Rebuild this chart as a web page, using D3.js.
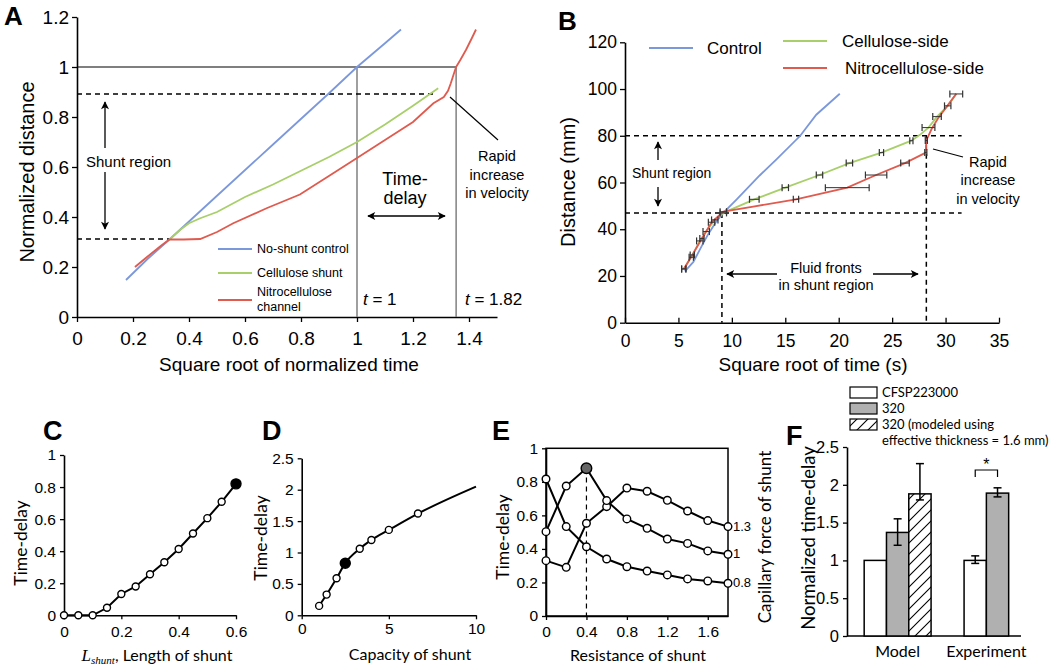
<!DOCTYPE html>
<html><head><meta charset="utf-8">
<script src="https://cdn.jsdelivr.net/npm/d3@7"></script>
<style>body{margin:0;background:#fff} svg{display:block}</style>
</head><body><svg id="c" width="1050" height="672"></svg>
<script>
// ---------------- DATA ----------------
// Panel A
const aTicksX = [0, 0.2, 0.4, 0.6, 0.8, 1, 1.2, 1.4];
const aTicksY = [0, 0.2, 0.4, 0.6, 0.8, 1, 1.2];
const aBlueX = [0.175, 0.25, 0.33, 0.5, 0.7, 0.9, 1.0, 1.1, 1.157];
const aBlueY = [0.148, 0.23, 0.31, 0.485, 0.69, 0.895, 1.0, 1.095, 1.15];
const aGreenX = [0.33, 0.37, 0.4, 0.44, 0.5, 0.6, 0.7, 0.8, 0.9, 1.0, 1.1, 1.2, 1.29];
const aGreenY = [0.31, 0.35, 0.375, 0.395, 0.42, 0.48, 0.53, 0.585, 0.64, 0.70, 0.77, 0.845, 0.915];
const aRedX = [0.207, 0.25, 0.30, 0.33, 0.38, 0.44, 0.5, 0.558, 0.677, 0.796, 0.915, 1.0, 1.1, 1.2, 1.273, 1.31, 1.325, 1.335, 1.345, 1.354, 1.37, 1.39, 1.41, 1.425];
const aRedY = [0.2, 0.24, 0.285, 0.31, 0.31, 0.312, 0.34, 0.375, 0.435, 0.49, 0.575, 0.636, 0.708, 0.78, 0.855, 0.88, 0.905, 0.935, 0.97, 1.0, 1.03, 1.07, 1.115, 1.15];
const aLegend = ["No-shunt control", "Cellulose shunt", "Nitrocellulose channel"];

// Panel B
const bTicksX = [0, 5, 10, 15, 20, 25, 30, 35];
const bTicksY = [0, 20, 40, 60, 80, 100, 120];
const bBlueX = [5.6, 6.4, 7.2, 7.8, 8.5, 9.2, 10.5, 12.6, 14.2, 16.4, 17.9, 20.1];
const bBlueY = [22, 26, 33, 38, 43, 47, 53, 63, 70, 80, 89, 98];
const bGreenX = [5.5, 6.2, 7.0, 7.6, 8.4, 9.2, 12.1, 15.0, 18.2, 21.0, 24.0, 26.8, 27.6, 28.4, 29.2, 30.2, 31.0];
const bGreenY = [23, 28, 35, 39, 44, 47, 52.8, 57.8, 63.2, 68.3, 72.8, 77.9, 80.4, 83.5, 88.2, 92.8, 97.9];
const bGreenErr = [0.2, 0.2, 0.3, 0.3, 0.3, 0.3, 0.45, 0.3, 0.3, 0.3, 0.2, 0.15, 0, 0.6, 0.4, 0.3, 0.6];
const bRedX = [5.5, 6.3, 7.2, 8.1, 9.2, 12.0, 16.0, 20.8, 23.5, 26.2, 28.15, 28.2, 28.7, 29.3, 30.2, 31.0];
const bRedY = [23, 29, 36, 43, 47.5, 49.7, 52.8, 57.8, 63.2, 68.3, 72.8, 78, 83, 87.5, 93, 98];
const bRedErr = [0.2, 0.2, 0.2, 0.3, 0.3, 0, 0.25, 2.05, 1.0, 0.4, 0.1, 0.1, 0, 0, 0, 0];
const bLegend = ["Control", "Cellulose-side", "Nitrocellulose-side"];

// Panel C
const cTicksX = [0, 0.2, 0.4, 0.6];
const cTicksY = [0, 0.2, 0.4, 0.6, 0.8, 1];
const cX = [0, 0.05, 0.1, 0.15, 0.2, 0.25, 0.3, 0.35, 0.4, 0.45, 0.5, 0.55, 0.6];
const cY = [0, 0, 0, 0.047, 0.133, 0.18, 0.256, 0.331, 0.414, 0.51, 0.606, 0.708, 0.82];

// Panel D
const dTicksX = [0, 5, 10];
const dTicksY = [0, 0.5, 1, 1.5, 2, 2.5];
const dX = [1, 1.43, 2, 2.5, 3.33, 4, 5, 6.67];
const dY = [0.15, 0.33, 0.59, 0.83, 1.06, 1.2, 1.36, 1.62];
const dLineX = [1, 1.43, 2, 2.5, 3.33, 4, 5, 6.67, 10];
const dLineY = [0.15, 0.33, 0.59, 0.83, 1.06, 1.2, 1.36, 1.62, 2.05];

// Panel E
const eTicksX = [0, 0.4, 0.8, 1.2, 1.6];
const eTicksY = [0, 0.2, 0.4, 0.6, 0.8, 1];
const eX = [0, 0.2, 0.4, 0.6, 0.8, 1.0, 1.2, 1.4, 1.6, 1.8];
const eCap13 = [0.33, 0.29, 0.553, 0.652, 0.763, 0.744, 0.69, 0.626, 0.569, 0.533];
const eCap10 = [0.503, 0.775, 0.881, 0.688, 0.579, 0.523, 0.459, 0.433, 0.388, 0.368];
const eCap08 = [0.817, 0.533, 0.413, 0.34, 0.294, 0.268, 0.245, 0.221, 0.209, 0.195];
const eLabels = ["1.3", "1", "0.8"];

// Panel F
const fTicksY = [0, 0.5, 1, 1.5, 2, 2.5];
const fCats = ["Model", "Experiment"];
const fSeries = ["CFSP223000", "320", "320 (modeled using effective thickness = 1.6 mm)"];
const fWhite = [1.0, 1.0];
const fWhiteLo = [1.0, 0.96];
const fWhiteHi = [1.0, 1.06];
const fGray = [1.37, 1.89];
const fGrayLo = [1.2, 1.84];
const fGrayHi = [1.55, 1.96];
const fHatch = [1.88, null];
const fHatchLo = [1.80, null];
const fHatchHi = [2.28, null];

// ---------------- DRAWING ----------------
const ARIAL = '"Liberation Sans", Arial, sans-serif';
const MYR = 'Lato, "Open Sans", sans-serif';
const cBlue = "#7c98dc", cGreen = "#a8cf6a", cRed = "#e05a4e";
const svg = d3.select("#c");
svg.append("rect").attr("width", 1050).attr("height", 672).attr("fill", "#fff");
const defs = svg.append("defs");
defs.append("marker").attr("id", "ah").attr("viewBox", "0 0 10 10")
  .attr("refX", 9).attr("refY", 5).attr("markerWidth", 9).attr("markerHeight", 8)
  .attr("markerUnits", "userSpaceOnUse").attr("orient", "auto-start-reverse")
  .append("path").attr("d", "M0,0 L10,5 L0,10 L2.5,5 Z").attr("fill", "#000");
const pat = defs.append("pattern").attr("id", "hatch").attr("patternUnits", "userSpaceOnUse")
  .attr("width", 11).attr("height", 11);
pat.append("rect").attr("width", 11).attr("height", 11).attr("fill", "#fff");
pat.append("path").attr("d", "M-2.75,2.75 l5.5,-5.5 M0,11 l11,-11 M8.25,13.75 l5.5,-5.5")
  .attr("stroke", "#000").attr("stroke-width", 1.1);

function styleAxis(g, fs, fam) {
  g.attr("font-family", fam);
  g.selectAll("path.domain").attr("stroke", "#000").attr("stroke-width", 1.6);
  g.selectAll(".tick line").attr("stroke", "#000").attr("stroke-width", 1.3);
  g.selectAll(".tick text").attr("font-size", fs).attr("font-family", fam).attr("fill", "#000");
}
function zip(xs, ys) { return xs.map((x, i) => [x, ys[i]]); }
function txt(x, y, s, o = {}) {
  return svg.append("text").attr("x", x).attr("y", y).text(s)
    .attr("font-family", o.fam || ARIAL).attr("font-size", o.fs || 14)
    .attr("text-anchor", o.anchor || "start").attr("font-weight", o.fw || "normal")
    .attr("fill", "#000");
}
function vtxt(x, y, s, o = {}) {
  return svg.append("text").attr("transform", `translate(${x},${y}) rotate(-90)`).text(s)
    .attr("font-family", o.fam || ARIAL).attr("font-size", o.fs || 14)
    .attr("text-anchor", "middle").attr("fill", "#000");
}
function line(x1, y1, x2, y2, o = {}) {
  const l = svg.append("line").attr("x1", x1).attr("y1", y1).attr("x2", x2).attr("y2", y2)
    .attr("stroke", o.stroke || "#000").attr("stroke-width", o.sw || 1.3);
  if (o.dash) l.attr("stroke-dasharray", o.dash);
  if (o.arrow) l.attr("marker-end", "url(#ah)");
  if (o.arrow2) l.attr("marker-start", "url(#ah)");
  return l;
}

// ===== Panel A =====
{
  const x = d3.scaleLinear([0, 1.5], [77, 497]);
  const y = d3.scaleLinear([0, 1.2], [317, 17]);
  const gx = svg.append("g").attr("transform", "translate(0,317)")
    .call(d3.axisBottom(x).tickValues(aTicksX).tickFormat(d => String(d)).tickSize(5).tickSizeOuter(0).tickPadding(10));
  styleAxis(gx, 19, ARIAL);
  const gy = svg.append("g").attr("transform", "translate(77,0)")
    .call(d3.axisLeft(y).tickValues(aTicksY).tickFormat(d => String(d)).tickSize(5).tickSizeOuter(0).tickPadding(3));
  styleAxis(gy, 19, ARIAL);

  // reference lines
  line(x(0), y(1), x(1.354), y(1), { sw: 1.2 });
  line(x(1), y(1), x(1), y(0), { stroke: "#777", sw: 1.4 });
  line(x(1.354), y(1), x(1.354), y(0), { stroke: "#777", sw: 1.4 });
  line(x(0), y(0.892), x(1.285), y(0.892), { dash: "5,4", sw: 1.5 });
  line(x(0), y(0.312), x(0.33), y(0.312), { dash: "5,4", sw: 1.5 });

  const lg = d3.line().x(d => x(d[0])).y(d => y(d[1]));
  svg.append("path").attr("d", lg(zip(aBlueX, aBlueY))).attr("fill", "none").attr("stroke", cBlue).attr("stroke-width", 1.8);
  svg.append("path").attr("d", lg(zip(aGreenX, aGreenY))).attr("fill", "none").attr("stroke", cGreen).attr("stroke-width", 1.8);
  svg.append("path").attr("d", lg(zip(aRedX, aRedY))).attr("fill", "none").attr("stroke", cRed).attr("stroke-width", 1.8);

  // legend
  const cols = [cBlue, cGreen, cRed];
  const ly = [249, 273, 300];
  cols.forEach((c, i) => line(218, ly[i], 252, ly[i], { stroke: c, sw: 1.8 }));
  txt(257, 253, aLegend[0], { fs: 12.5 });
  txt(257, 277, aLegend[1], { fs: 12.5 });
  txt(257, 296, "Nitrocellulose", { fs: 12.5 });
  txt(257, 311, "channel", { fs: 12.5 });

  // annotations
  txt(86, 167, "Shunt region", { fs: 15 });
  line(105, 148, 105, 102, { arrow: true });
  line(105, 172, 105, 229, { arrow: true });
  txt(405, 185, "Time-", { fs: 18, anchor: "middle" });
  txt(405, 204, "delay", { fs: 18, anchor: "middle" });
  line(368, 216, 445, 216, { arrow: true, arrow2: true });
  const t1 = txt(363, 305, "", { fs: 17 });
  t1.append("tspan").attr("font-style", "italic").text("t");
  t1.append("tspan").text(" = 1");
  const t2 = txt(465, 305, "", { fs: 17 });
  t2.append("tspan").attr("font-style", "italic").text("t");
  t2.append("tspan").text(" = 1.82");
  txt(497, 161, "Rapid", { fs: 14.5, anchor: "middle" });
  txt(497, 180, "increase", { fs: 14.5, anchor: "middle" });
  txt(497, 198, "in velocity", { fs: 14.5, anchor: "middle" });
  line(450, 97, 498, 140, { sw: 1.2 });

  vtxt(34, 172, "Normalized distance", { fs: 20 });
  txt(289, 371, "Square root of normalized time", { fs: 19, anchor: "middle" });
  txt(4, 25, "A", { fs: 26, fw: "bold" });
}

// ===== Panel B =====
{
  const x = d3.scaleLinear([0, 35], [625, 999]);
  const y = d3.scaleLinear([0, 120], [322.7, 42.3]);
  const gx = svg.append("g").attr("transform", "translate(0,322.7)")
    .call(d3.axisBottom(x).tickValues(bTicksX).tickFormat(d => String(d)).tickSize(-5).tickSizeOuter(0).tickPadding(12));
  styleAxis(gx, 17.5, ARIAL);
  const gy = svg.append("g").attr("transform", "translate(625,0)")
    .call(d3.axisLeft(y).tickValues(bTicksY).tickFormat(d => String(d)).tickSize(5).tickSizeOuter(0).tickPadding(3));
  styleAxis(gy, 17.5, ARIAL);

  line(x(0), y(80), x(31.5), y(80), { dash: "5,4", sw: 1.5 });
  line(x(0), y(47), x(31.5), y(47), { dash: "5,4", sw: 1.5 });
  line(x(9.07), y(47), x(9.07), y(0), { dash: "5,4", sw: 1.5 });
  line(x(28.2), y(80), x(28.2), y(0), { dash: "5,4", sw: 1.5 });

  const lg = d3.line().x(d => x(d[0])).y(d => y(d[1]));
  svg.append("path").attr("d", lg(zip(bBlueX, bBlueY))).attr("fill", "none").attr("stroke", cBlue).attr("stroke-width", 1.8);
  svg.append("path").attr("d", lg(zip(bGreenX, bGreenY))).attr("fill", "none").attr("stroke", cGreen).attr("stroke-width", 1.8);
  svg.append("path").attr("d", lg(zip(bRedX, bRedY))).attr("fill", "none").attr("stroke", cRed).attr("stroke-width", 1.8);

  function errs(xs, ys, es) {
    xs.forEach((xv, i) => {
      if (!es[i]) return;
      const yy = y(ys[i]);
      const x1 = x(xv - es[i]), x2 = x(xv + es[i]);
      line(x1, yy, x2, yy, { stroke: "#333", sw: 1 });
      line(x1, yy - 3.5, x1, yy + 3.5, { stroke: "#333", sw: 1.2 });
      line(x2, yy - 3.5, x2, yy + 3.5, { stroke: "#333", sw: 1.2 });
    });
  }
  errs(bGreenX, bGreenY, bGreenErr);
  errs(bRedX, bRedY, bRedErr);

  // legend
  line(649, 48, 693, 48, { stroke: cBlue, sw: 1.8 });
  txt(707, 54, bLegend[0], { fs: 17 });
  line(783, 41, 827, 41, { stroke: cGreen, sw: 1.8 });
  txt(842, 47, bLegend[1], { fs: 17 });
  line(783, 68, 827, 68, { stroke: cRed, sw: 1.8 });
  txt(845, 74, bLegend[2], { fs: 17 });

  txt(632, 178, "Shunt region", { fs: 14 });
  line(658, 160, 658, 142, { arrow: true });
  line(658, 187, 658, 206, { arrow: true });
  txt(826, 273, "Fluid fronts", { fs: 14.5, anchor: "middle" });
  txt(826, 290, "in shunt region", { fs: 14.5, anchor: "middle" });
  line(777, 274, 727, 274, { arrow: true });
  line(873, 274, 918, 274, { arrow: true });
  txt(988, 167, "Rapid", { fs: 14.5, anchor: "middle" });
  txt(988, 185, "increase", { fs: 14.5, anchor: "middle" });
  txt(988, 204, "in velocity", { fs: 14.5, anchor: "middle" });
  line(933, 149, 963, 157, { sw: 1.2 });

  vtxt(575, 182, "Distance (mm)", { fs: 20 });
  txt(813, 371, "Square root of time (s)", { fs: 19, anchor: "middle" });
  txt(558, 30, "B", { fs: 26, fw: "bold" });
}

function markers(xs, ys, x, y, r, filledIdx, fillCol) {
  xs.forEach((xv, i) => {
    const f = i === filledIdx;
    svg.append("circle").attr("cx", x(xv)).attr("cy", y(ys[i])).attr("r", f ? r + 1.5 : r)
      .attr("fill", f ? fillCol : "#fff").attr("stroke", "#000").attr("stroke-width", 1.4);
  });
}

// ===== Panel C =====
{
  const x = d3.scaleLinear([0, 0.6], [64, 236]);
  const y = d3.scaleLinear([0, 1], [615.3, 455]);
  const gx = svg.append("g").attr("transform", "translate(0,615.3)")
    .call(d3.axisBottom(x).tickValues(cTicksX).tickFormat(d => String(d)).tickSize(4).tickSizeOuter(0).tickPadding(7));
  styleAxis(gx, 15.5, ARIAL);
  const gy = svg.append("g").attr("transform", "translate(64,0)")
    .call(d3.axisLeft(y).tickValues(cTicksY).tickFormat(d => String(d)).tickSize(4).tickSizeOuter(0).tickPadding(4));
  styleAxis(gy, 15.5, ARIAL);
  const lg = d3.line().x(d => x(d[0])).y(d => y(d[1]));
  svg.append("path").attr("d", lg(zip(cX, cY))).attr("fill", "none").attr("stroke", "#000").attr("stroke-width", 2);
  markers(cX, cY, x, y, 3.5, cX.length - 1, "#000");
  vtxt(27, 543, "Time-delay", { fs: 17.5, fam: MYR });
  const t = txt(157, 661, "", { fs: 16, fam: MYR, anchor: "middle" });
  t.append("tspan").attr("font-family", '"Liberation Serif", serif').attr("font-style", "italic").attr("font-size", 17).text("L");
  t.append("tspan").attr("font-family", '"Liberation Serif", serif').attr("font-style", "italic").attr("font-size", 11).attr("dy", 3).text("shunt");
  t.append("tspan").attr("dy", -3).text(", Length of shunt");
  txt(43, 440, "C", { fs: 27, fw: "bold" });
}

// ===== Panel D =====
{
  const x = d3.scaleLinear([0, 10], [301.7, 476]);
  const y = d3.scaleLinear([0, 2.5], [615.3, 458.3]);
  const gx = svg.append("g").attr("transform", "translate(0,615.3)")
    .call(d3.axisBottom(x).tickValues(dTicksX).tickFormat(d => String(d)).tickSize(4).tickSizeOuter(0).tickPadding(4));
  styleAxis(gx, 15.5, ARIAL);
  const gy = svg.append("g").attr("transform", "translate(301.7,0)")
    .call(d3.axisLeft(y).tickValues(dTicksY).tickFormat(d => String(d)).tickSize(4).tickSizeOuter(0).tickPadding(4));
  styleAxis(gy, 15.5, ARIAL);
  const lg = d3.line().x(d => x(d[0])).y(d => y(d[1])).curve(d3.curveMonotoneX);
  svg.append("path").attr("d", lg(zip(dLineX, dLineY))).attr("fill", "none").attr("stroke", "#000").attr("stroke-width", 2);
  markers(dX, dY, x, y, 3.5, 3, "#000");
  vtxt(267, 538, "Time-delay", { fs: 17.5, fam: MYR });
  txt(410, 660, "Capacity of shunt", { fs: 16, fam: MYR, anchor: "middle" });
  txt(262, 440, "D", { fs: 27, fw: "bold" });
}

// ===== Panel E =====
{
  const x = d3.scaleLinear([0, 1.8], [546, 728]);
  const y = d3.scaleLinear([0, 1], [616, 448.3]);
  svg.append("rect").attr("x", 546).attr("y", 448.3).attr("width", 182).attr("height", 167.7)
    .attr("fill", "none").attr("stroke", "#000").attr("stroke-width", 1.5);
  const gx = svg.append("g").attr("transform", "translate(0,616)")
    .call(d3.axisBottom(x).tickValues(eTicksX).tickFormat(d => String(d)).tickSize(4).tickSizeOuter(0).tickPadding(6));
  styleAxis(gx, 15.5, ARIAL);
  const gy = svg.append("g").attr("transform", "translate(546,0)")
    .call(d3.axisLeft(y).tickValues(eTicksY).tickFormat(d => String(d)).tickSize(4).tickSizeOuter(0).tickPadding(4));
  styleAxis(gy, 15.5, ARIAL);
  line(x(0.4), y(0.88), x(0.4), y(0), { dash: "5,4", sw: 1.2 });
  const lg = d3.line().x(d => x(d[0])).y(d => y(d[1]));
  [eCap13, eCap10, eCap08].forEach(s => {
    svg.append("path").attr("d", lg(zip(eX, s))).attr("fill", "none").attr("stroke", "#000").attr("stroke-width", 2);
  });
  markers(eX, eCap13, x, y, 3.8, -1, "#fff");
  markers(eX, eCap10, x, y, 3.8, 2, "#666");
  markers(eX, eCap08, x, y, 3.8, -1, "#fff");
  txt(733, y(eCap13[9]) + 4, eLabels[0], { fs: 13 });
  txt(733, y(eCap10[9]) + 4, eLabels[1], { fs: 13 });
  txt(733, y(eCap08[9]) + 4, eLabels[2], { fs: 13 });
  vtxt(509, 537, "Time-delay", { fs: 17.5, fam: MYR });
  vtxt(771, 537, "Capillary force of shunt", { fs: 17, fam: MYR });
  txt(638, 661, "Resistance of shunt", { fs: 16, fam: MYR, anchor: "middle" });
  txt(492, 440, "E", { fs: 27, fw: "bold" });
}

// ===== Panel F =====
{
  const y = d3.scaleLinear([0, 2.5], [636, 447]);
  const xg = d3.scaleBand().domain(fCats).range([853.25, 1030.75]);
  const bw = 22.3;
  const gy = svg.append("g").attr("transform", "translate(847,0)")
    .call(d3.axisLeft(y).tickValues(fTicksY).tickFormat(d => String(d)).tickSize(4).tickSizeOuter(0).tickPadding(4));
  styleAxis(gy, 16.5, ARIAL);
  line(847, 636, 1021, 636, { sw: 1.6 });

  const fills = ["#fff", "#b0b0b0", "url(#hatch)"];
  const vals = [fWhite, fGray, fHatch], lo = [fWhiteLo, fGrayLo, fHatchLo], hi = [fWhiteHi, fGrayHi, fHatchHi];
  fCats.forEach((c, ci) => {
    const present = [0, 1, 2].filter(s => vals[s][ci] != null);
    const cx = xg(c) + xg.bandwidth() / 2;
    const x0 = cx - present.length * bw / 2;
    present.forEach((s, k) => {
      const v = vals[s][ci];
      const bx = x0 + k * bw;
      svg.append("rect").attr("x", bx).attr("y", y(v)).attr("width", bw).attr("height", y(0) - y(v))
        .attr("fill", fills[s]).attr("stroke", "#000").attr("stroke-width", 1.5);
      if (hi[s][ci] > lo[s][ci]) {
        const mx = bx + bw / 2;
        line(mx, y(lo[s][ci]), mx, y(hi[s][ci]), { sw: 1.5 });
        line(mx - 4, y(lo[s][ci]), mx + 4, y(lo[s][ci]), { sw: 1.5 });
        line(mx - 4, y(hi[s][ci]), mx + 4, y(hi[s][ci]), { sw: 1.5 });
      }
    });
    txt(cx, 657, c, { fs: 16, fam: MYR, anchor: "middle" });
  });
  // significance bracket
  {
    const cx = xg("Experiment") + xg.bandwidth() / 2;
    const a = cx - bw / 2, b = cx + bw / 2;
    svg.append("path").attr("d", `M${a},477 L${a},470 L${b},470 L${b},477`).attr("fill", "none").attr("stroke", "#000").attr("stroke-width", 1.2);
    txt(cx, 470, "*", { fs: 16, anchor: "middle" });
  }
  // legend
  const ly = [387, 403, 419];
  [0, 1, 2].forEach(i => {
    svg.append("rect").attr("x", 850).attr("y", ly[i]).attr("width", 27).attr("height", 11)
      .attr("fill", fills[i]).attr("stroke", "#000").attr("stroke-width", 1.2);
  });
  txt(882, 397, fSeries[0], { fs: 13, fam: MYR });
  txt(882, 413, fSeries[1], { fs: 13, fam: MYR });
  txt(882, 429, "320 (modeled using", { fs: 13, fam: MYR });
  txt(882, 445, "effective thickness = 1.6 mm)", { fs: 13, fam: MYR });
  vtxt(815, 538, "Normalized time-delay", { fs: 18.5, fam: MYR });
  txt(786, 445, "F", { fs: 27, fw: "bold" });
}
</script>
</body></html>
